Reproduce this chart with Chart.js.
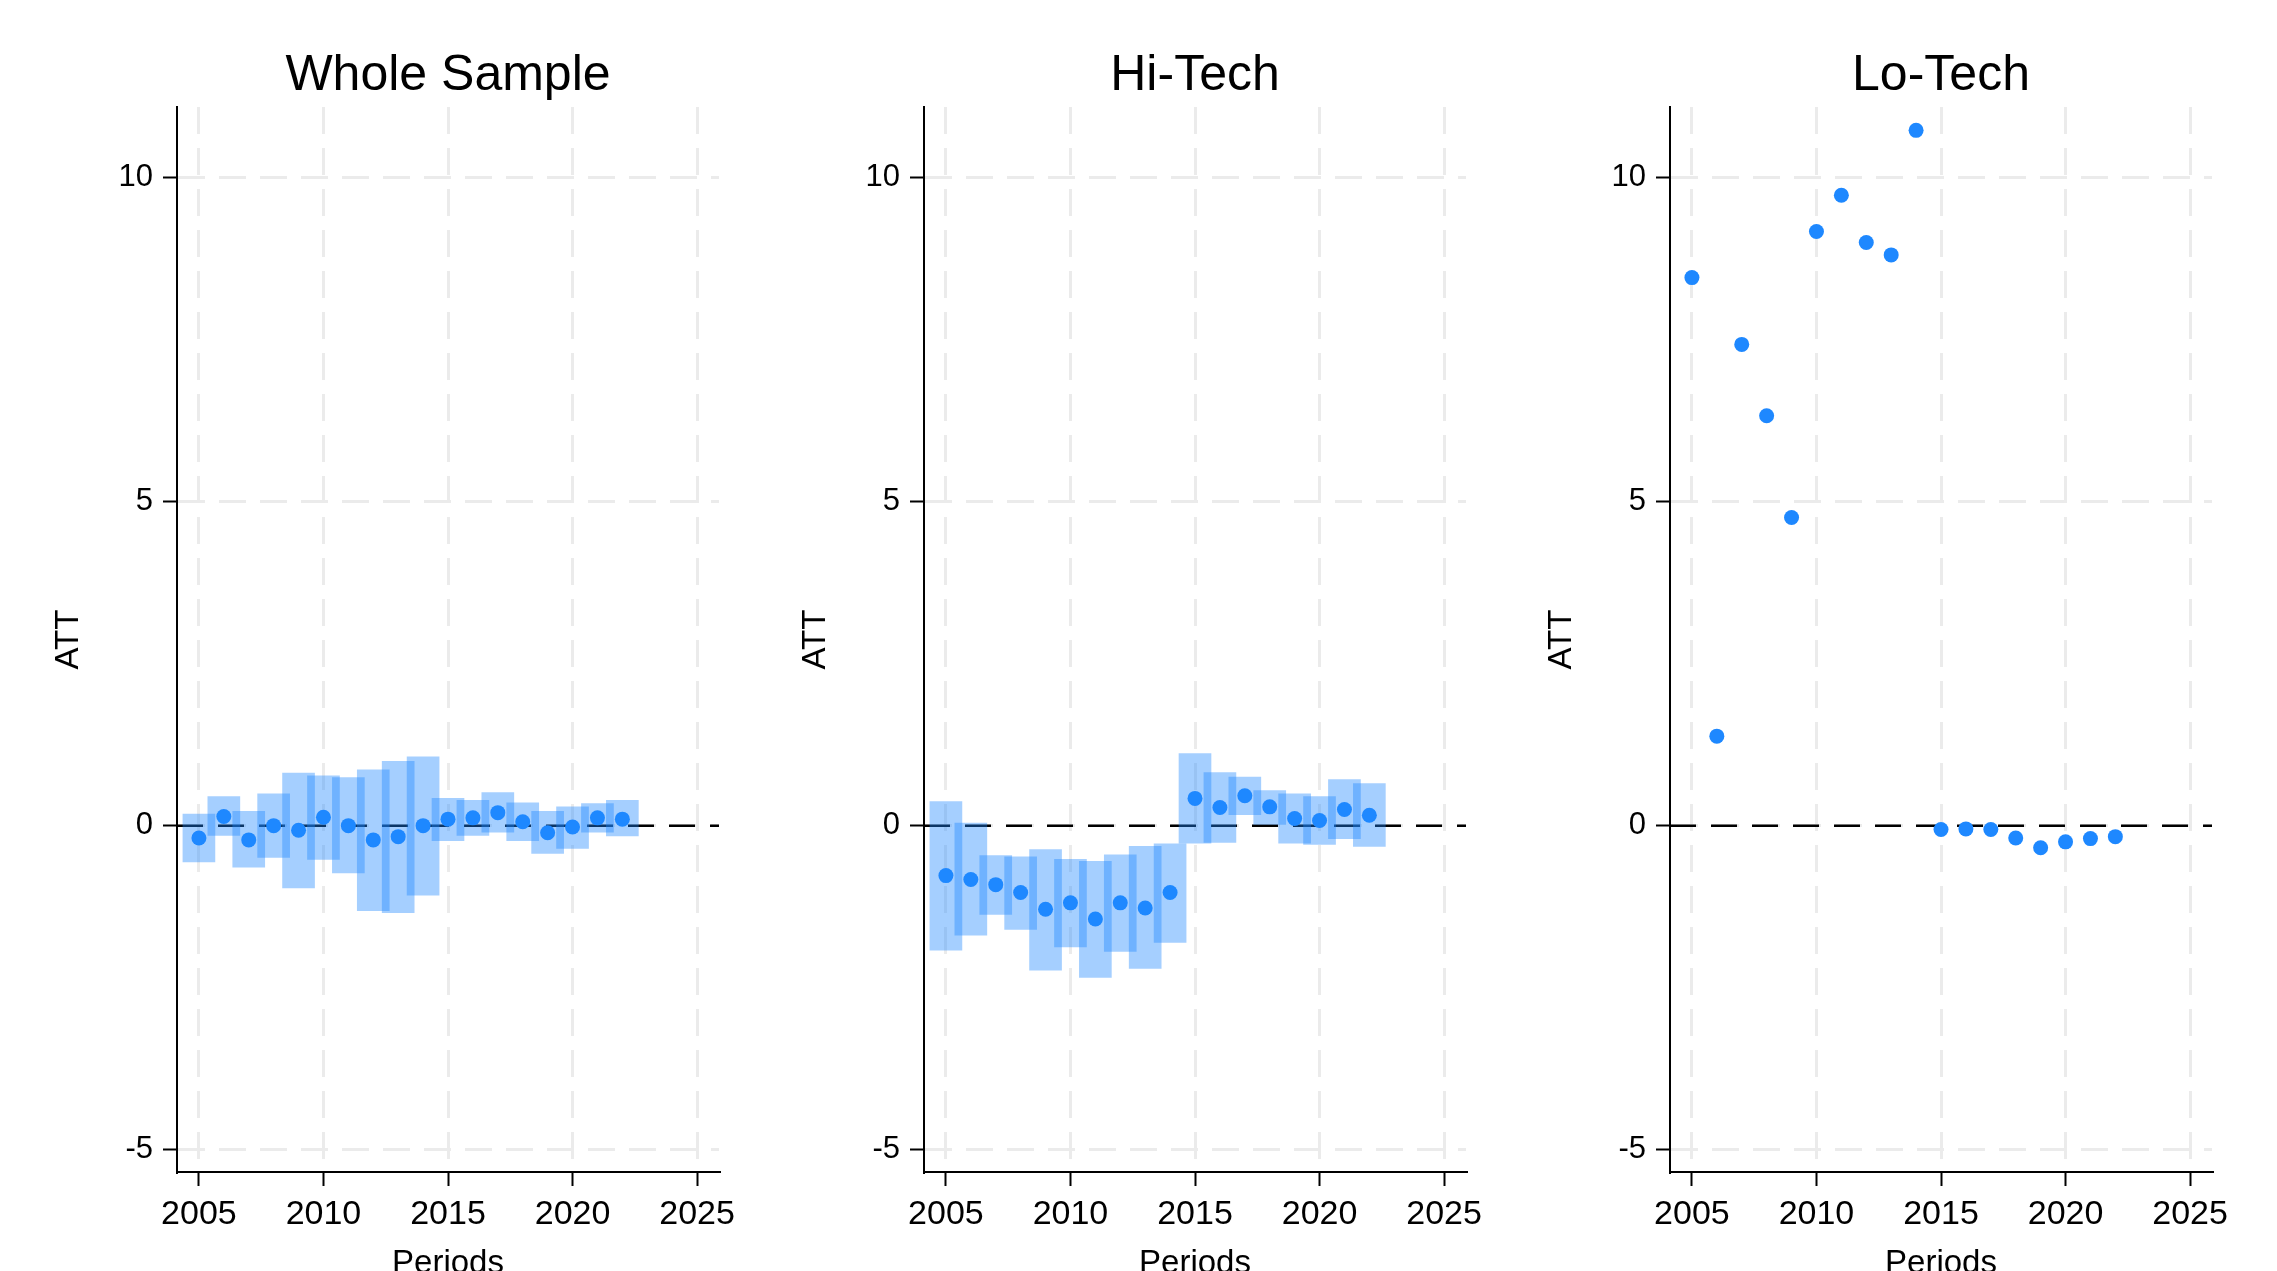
<!DOCTYPE html>
<html>
<head>
<meta charset="utf-8">
<script src="https://cdn.jsdelivr.net/npm/chart.js@4.4.1/dist/chart.umd.min.js"></script>
<style>
  html, body { margin: 0; padding: 0; background: #fff; overflow: hidden; }
  canvas { position: absolute; top: 0; }
</style>
</head>
<body>
<canvas id="whole" width="750" height="1290" style="left:0px"></canvas>
<canvas id="hitech" width="750" height="1290" style="left:747px"></canvas>
<canvas id="lotech" width="750" height="1290" style="left:1493px"></canvas>
<script>
const years = [2005, 2006, 2007, 2008, 2009, 2010, 2011, 2012, 2013,
               2014, 2015, 2016, 2017, 2018, 2019, 2020, 2021, 2022];

const wholeAtt = [-0.19, 0.14, -0.22, 0.00, -0.07, 0.13, 0.00, -0.22, -0.17,
                  0.00, 0.10, 0.12, 0.20, 0.06, -0.11, -0.02, 0.12, 0.10];
const wholeLo = [-0.56, -0.15, -0.64, -0.49, -0.96, -0.52, -0.73, -1.31, -1.34,
                 -1.07, -0.23, -0.15, -0.10, -0.23, -0.43, -0.35, -0.10, -0.16];
const wholeHi = [0.18, 0.45, 0.22, 0.49, 0.81, 0.77, 0.74, 0.86, 0.99,
                 1.06, 0.42, 0.39, 0.51, 0.35, 0.22, 0.29, 0.34, 0.39];

const hiAtt = [-0.77, -0.83, -0.91, -1.03, -1.29, -1.19, -1.44, -1.19, -1.27,
               -1.03, 0.42, 0.28, 0.46, 0.29, 0.11, 0.08, 0.25, 0.16];
const hiLo = [-1.92, -1.69, -1.37, -1.60, -2.23, -1.87, -2.34, -1.94, -2.20,
              -1.80, -0.27, -0.26, 0.17, 0.02, -0.27, -0.29, -0.20, -0.32];
const hiHi = [0.37, 0.04, -0.46, -0.48, -0.37, -0.52, -0.55, -0.45, -0.32,
              -0.28, 1.11, 0.82, 0.75, 0.54, 0.49, 0.45, 0.71, 0.65];

const loAtt = [8.45, 1.38, 7.42, 6.32, 4.75, 9.16, 9.72, 8.99, 8.80,
               10.72, -0.06, -0.05, -0.06, -0.19, -0.34, -0.25, -0.20, -0.17];

const xTicks = [2005, 2010, 2015, 2020, 2025];
const yTicks = [-5, 0, 5, 10];

const blue = 'rgb(30,136,255)';
const ciBlue = 'rgba(30,136,255,0.4)';
const gridGrey = 'rgb(235,235,235)';
const font = 'Liberation Sans, Arial, Helvetica, sans-serif';

// dashed reference line at zero, under the bars
const zeroLine = {
  id: 'zeroLine',
  beforeDatasetsDraw(chart) {
    const {ctx, chartArea, scales} = chart;
    const y = scales.y.getPixelForValue(0);
    ctx.save();
    ctx.strokeStyle = '#000';
    ctx.lineWidth = 2.5;
    ctx.setLineDash([26, 15]);
    ctx.beginPath();
    ctx.moveTo(chartArea.left, y);
    ctx.lineTo(chartArea.right, y);
    ctx.stroke();
    ctx.restore();
  }
};

// panel title centred over the plot area (the built-in one centres on the canvas)
const panelTitle = {
  id: 'panelTitle',
  afterDraw(chart, args, opts) {
    const {ctx, chartArea} = chart;
    ctx.save();
    ctx.fillStyle = '#000';
    ctx.font = '50px ' + font;
    ctx.textAlign = 'center';
    ctx.textBaseline = 'middle';
    ctx.fillText(opts.text, (chartArea.left + chartArea.right) / 2, 76);
    ctx.restore();
  }
};

function makePanel(id, title, att, lo, hi) {
  const datasets = [{
    type: 'scatter',
    data: years.map((x, i) => ({x: x, y: att[i]})),
    backgroundColor: blue,
    borderWidth: 0,
    pointRadius: 7.5,
    order: 1
  }];
  if (lo) {
    datasets.push({
      type: 'bar',
      data: years.map((x, i) => ({x: x, y: [lo[i], hi[i]]})),
      backgroundColor: ciBlue,
      borderWidth: 0,
      borderSkipped: false,
      barThickness: 32,
      order: 2
    });
  }

  new Chart(document.getElementById(id), {
    type: 'scatter',
    data: {datasets: datasets},
    plugins: [zeroLine, panelTitle],
    options: {
      responsive: false,
      animation: false,
      events: [],
      layout: {padding: {left: 0, right: 31, top: 107, bottom: 0}},
      plugins: {
        legend: {display: false},
        tooltip: {enabled: false},
        title: {display: false},
        panelTitle: {text: title}
      },
      scales: {
        x: {
          type: 'linear',
          min: 2004.12,
          max: 2025.88,
          offset: false,
          afterBuildTicks: s => { s.ticks = xTicks.map(v => ({value: v})); },
          afterFit: s => { s.height = 118; },
          ticks: {
            color: '#000',
            font: {family: font, size: 34},
            padding: 8,
            maxRotation: 0,
            callback: v => String(v)
          },
          grid: {
            color: gridGrey,
            lineWidth: 3,
            offset: false,
            tickLength: 14,
            tickColor: '#000',
            tickWidth: 2,
            tickBorderDash: []
          },
          border: {display: true, color: '#000', width: 2, dash: [27, 14]},
          title: {
            display: true,
            text: 'Periods',
            color: '#000',
            font: {family: font, size: 33},
            padding: {top: 0, bottom: 6}
          }
        },
        y: {
          type: 'linear',
          min: -5.34,
          max: 11.08,
          afterBuildTicks: s => { s.ticks = yTicks.map(v => ({value: v})); },
          afterFit: s => { s.width = 177; },
          ticks: {
            color: '#000',
            font: {family: font, size: 31},
            padding: 10,
            callback: v => String(v)
          },
          grid: {
            color: gridGrey,
            lineWidth: 3,
            tickLength: 14,
            tickColor: '#000',
            tickWidth: 2,
            tickBorderDash: []
          },
          border: {display: true, color: '#000', width: 2, dash: [27, 14]},
          title: {
            display: true,
            text: 'ATT',
            color: '#000',
            font: {family: font, size: 33},
            padding: {top: 49, bottom: 0}
          }
        }
      }
    }
  });
}

makePanel('whole', 'Whole Sample', wholeAtt, wholeLo, wholeHi);
makePanel('hitech', 'Hi-Tech', hiAtt, hiLo, hiHi);
makePanel('lotech', 'Lo-Tech', loAtt, null, null);
</script>
</body>
</html>
